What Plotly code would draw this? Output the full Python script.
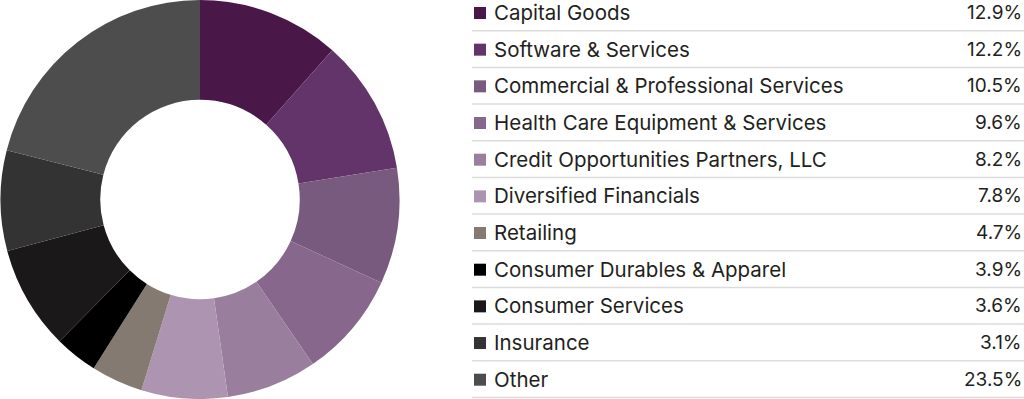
import plotly.graph_objects as go

categories = [
    "Capital Goods",
    "Software & Services",
    "Commercial & Professional Services",
    "Health Care Equipment & Services",
    "Credit Opportunities Partners, LLC",
    "Diversified Financials",
    "Retailing",
    "Consumer Durables & Apparel",
    "Consumer Services",
    "Insurance",
    "Other",
]
# percentages printed in the legend
legend_pct = [12.9, 12.2, 10.5, 9.6, 8.2, 7.8, 4.7, 3.9, 3.6, 3.1, 23.5]
# slice sizes as drawn in the donut
slice_values = [12.9, 12.2, 10.5, 9.6, 8.2, 7.8, 4.7, 3.9, 9.4, 9.1, 23.5]
colors = [
    "#4a1848", "#633469", "#775a7d", "#88678d", "#9a7e9e", "#ad95b1",
    "#857a72", "#000000", "#1a1818", "#333333", "#4d4d4d",
]

W, H = 1024, 399
FONT = "Inter"
TEXT_COLOR = "#231f20"

fig = go.Figure()
fig.add_trace(go.Pie(
    labels=categories,
    values=slice_values,
    marker=dict(colors=colors, line=dict(width=0)),
    hole=0.5,
    sort=False,
    direction="clockwise",
    rotation=0,
    textinfo="none",
    showlegend=False,
    domain=dict(x=[0, 400 / W], y=[0, 1]),
    hovertemplate="%{label}<extra></extra>",
))

# legend table on a pixel-scaled overlay axis
row0 = 12.4
step = 36.67
row_y = [row0 + step * i for i in range(len(categories))]

fig.add_trace(go.Scatter(
    x=[480] * len(categories),
    y=[y + 0.6 for y in row_y],
    mode="markers",
    marker=dict(symbol="square", size=12, color=colors, line=dict(width=0)),
    showlegend=False,
    hoverinfo="skip",
    xaxis="x", yaxis="y",
))

shapes = []
annotations = []
for i, (cat, pct) in enumerate(zip(categories, legend_pct)):
    y = row_y[i]
    annotations.append(dict(
        x=494, y=y, xref="x", yref="y", text=cat, showarrow=False,
        xanchor="left", yanchor="middle", xshift=-2,
        font=dict(family=FONT, size=20.5, color=TEXT_COLOR),
    ))
    annotations.append(dict(
        x=1022, y=y, xref="x", yref="y", text=f"{pct:.1f}%", showarrow=False,
        xanchor="right", yanchor="middle", xshift=2,
        font=dict(family=FONT, size=19, color=TEXT_COLOR),
    ))
    ly = y + step / 2
    shapes.append(dict(
        type="line", xref="x", yref="y", x0=472, x1=1024, y0=ly, y1=ly,
        line=dict(color="#dcdcdc", width=1.5), layer="below",
    ))

fig.update_layout(
    width=W, height=H,
    margin=dict(l=0, r=0, t=0, b=0),
    paper_bgcolor="white",
    plot_bgcolor="rgba(0,0,0,0)",
    xaxis=dict(range=[0, W], visible=False, fixedrange=True, domain=[0, 1]),
    yaxis=dict(range=[H, 0], visible=False, fixedrange=True, domain=[0, 1]),
    shapes=shapes,
    annotations=annotations,
    font=dict(family=FONT),
)

fig.write_html(
    "out.html",
    config={"displayModeBar": False},
    post_script="document.body.style.margin='0';document.body.style.overflow='hidden';",
)
